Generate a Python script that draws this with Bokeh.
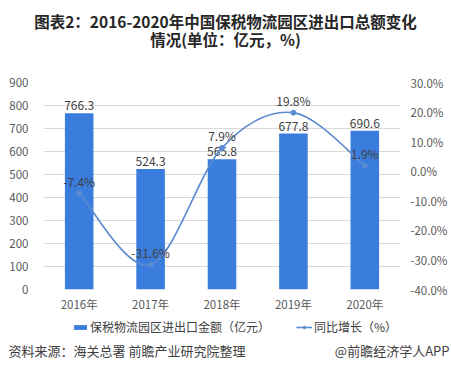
from bokeh.plotting import figure
from bokeh.models import (Range1d, LinearAxis, FixedTicker, Legend, LegendItem,
                          ColumnDataSource, CustomJSTickFormatter)
from bokeh.core.properties import value
from bokeh.embed import file_html
from bokeh.resources import INLINE

years = ["2016年", "2017年", "2018年", "2019年", "2020年"]
amount = [766.3, 524.3, 565.8, 677.8, 690.6]
growth = [-7.4, -31.6, 7.9, 19.8, 1.9]
left_ticks = [0, 100, 200, 300, 400, 500, 600, 700, 800, 900]
right_ticks = [-40, -30, -20, -10, 0, 10, 20, 30]
title1 = "图表2：2016-2020年中国保税物流园区进出口总额变化"
title2 = "情况(单位：亿元，%)"
bar_name = "保税物流园区进出口金额（亿元）"
line_name = "同比增长（%）"
source_text = "资料来源：海关总署 前瞻产业研究院整理"
credit_text = "@前瞻经济学人APP"

FONT = "Noto Sans CJK SC"
BAR_C = "#3b7ddd"
LINE_C = "#5b8bd0"
TXT_C = "#404040"
AX_C = "#595959"

W = 451
HEAD_H = 66
MAIN_H = 248
FOOT_H = 379 - HEAD_H - MAIN_H

idx = list(range(len(years)))


def blank_fig(h):
    f = figure(width=W, height=h, output_backend="svg", toolbar_location=None,
               x_range=Range1d(0, W), y_range=Range1d(h, 0),
               x_axis_location=None, y_axis_location=None,
               min_border_left=0, min_border_right=0, min_border_top=0, min_border_bottom=0)
    f.outline_line_color = None
    f.xgrid.visible = False
    f.ygrid.visible = False
    return f


# ---------------- header ----------------
head = blank_fig(HEAD_H)
head.text(x=[225, 225], y=[20, 38], text=[title1, title2], text_align="center",
          text_baseline="middle", text_font=value(FONT), text_font_size="15.5px",
          text_font_style="bold", text_color="#262626")

# ---------------- main chart ----------------
p = figure(width=W, height=MAIN_H, output_backend="svg", toolbar_location=None,
           x_range=Range1d(-0.5, len(years) - 0.5), y_range=Range1d(0, 900),
           min_border_left=43, min_border_right=51, min_border_top=16, min_border_bottom=22)
p.outline_line_color = None
p.extra_y_ranges = {"pct": Range1d(-40, 30)}

p.yaxis.ticker = FixedTicker(ticks=left_ticks)
p.xaxis.ticker = FixedTicker(ticks=idx)
p.xaxis.major_label_overrides = {i: y for i, y in enumerate(years)}

ra = LinearAxis(y_range_name="pct", ticker=FixedTicker(ticks=right_ticks))
ra.formatter = CustomJSTickFormatter(code="return tick.toFixed(1) + '%';")
p.add_layout(ra, "right")

for ax in [p.xaxis[0], p.yaxis[0], ra]:
    ax.axis_line_color = None
    ax.major_tick_line_color = None
    ax.minor_tick_line_color = None
    ax.major_tick_out = 0
    ax.major_tick_in = 0
    ax.minor_tick_out = 0
    ax.major_label_text_font = FONT
    ax.major_label_text_font_size = "11.5px"
    ax.major_label_text_color = AX_C
p.yaxis[0].major_label_standoff = 15
ra.major_label_standoff = 10
p.xaxis[0].major_label_standoff = 6

p.xgrid.grid_line_color = None
p.ygrid.grid_line_color = "#d9d9d9"
p.ygrid.ticker = FixedTicker(ticks=left_ticks)

bsrc = ColumnDataSource(dict(x=idx, top=amount, lab=[f"{v:.1f}" for v in amount]))
p.vbar(x="x", top="top", width=0.4, source=bsrc, fill_color=BAR_C, line_color=None)
p.text(x="x", y="top", text="lab", source=bsrc, text_align="center", text_baseline="bottom",
       y_offset=-3, text_font=value(FONT), text_font_size="12px", text_color=TXT_C)

# smooth curve: cubic bezier segments with control points from neighbouring data points
n = len(growth)


def pt(i):
    i = max(0, min(n - 1, i))
    return idx[i], growth[i]


seg = dict(x0=[], y0=[], x1=[], y1=[], cx0=[], cy0=[], cx1=[], cy1=[])
for i in range(n - 1):
    pp, pa, pb, pn = pt(i - 1), pt(i), pt(i + 1), pt(i + 2)
    seg["x0"].append(pa[0]); seg["y0"].append(pa[1])
    seg["x1"].append(pb[0]); seg["y1"].append(pb[1])
    seg["cx0"].append(pa[0] + (pb[0] - pp[0]) / 6); seg["cy0"].append(pa[1] + (pb[1] - pp[1]) / 6)
    seg["cx1"].append(pb[0] - (pn[0] - pa[0]) / 6); seg["cy1"].append(pb[1] - (pn[1] - pa[1]) / 6)
p.bezier(source=ColumnDataSource(seg), x0="x0", y0="y0", x1="x1", y1="y1",
         cx0="cx0", cy0="cy0", cx1="cx1", cy1="cy1",
         y_range_name="pct", line_color=LINE_C, line_width=1.6)
lsrc = ColumnDataSource(dict(x=idx, y=growth, lab=[f"{v:.1f}%" for v in growth]))
p.scatter(x="x", y="y", source=lsrc, y_range_name="pct", size=5,
          fill_color=LINE_C, line_color=LINE_C)
p.text(x="x", y="y", text="lab", source=lsrc, y_range_name="pct", text_align="center",
       text_baseline="middle", y_offset=-12, text_font=value(FONT),
       text_font_size="12px", text_color=TXT_C)

# ---------------- footer: legend + source ----------------
foot = blank_fig(FOOT_H)
lb = foot.vbar(x=idx, top=amount, width=0.4, fill_color=BAR_C, line_color=None, visible=False)
ll = foot.line(x=idx, y=growth, line_color=LINE_C, line_width=1.6, visible=False)
lm = foot.scatter(x=idx, y=growth, size=5, fill_color=LINE_C, line_color=LINE_C, visible=False)
legend = Legend(items=[LegendItem(label=bar_name, renderers=[lb]),
                       LegendItem(label=line_name, renderers=[ll, lm])],
                orientation="horizontal", location=(72, FOOT_H - 21))
legend.border_line_color = None
legend.background_fill_alpha = 0
legend.inactive_fill_alpha = 0
legend.padding = 0
legend.margin = 0
legend.spacing = 26
legend.label_standoff = 2
legend.glyph_width = 16
legend.glyph_height = 6
legend.label_height = 14
legend.label_text_font = FONT
legend.label_text_font_size = "12px"
legend.label_text_color = TXT_C
foot.add_layout(legend, "center")

foot.text(x=[8], y=[36], text=[source_text], text_align="left", text_baseline="middle",
          text_font=value(FONT), text_font_size="13px", text_color=TXT_C)
foot.text(x=[449], y=[36], text=[credit_text], text_align="right", text_baseline="middle",
          text_font=value(FONT), text_font_size="13px", text_color=TXT_C)

open("out.html", "w").write(file_html([head, p, foot], INLINE))
